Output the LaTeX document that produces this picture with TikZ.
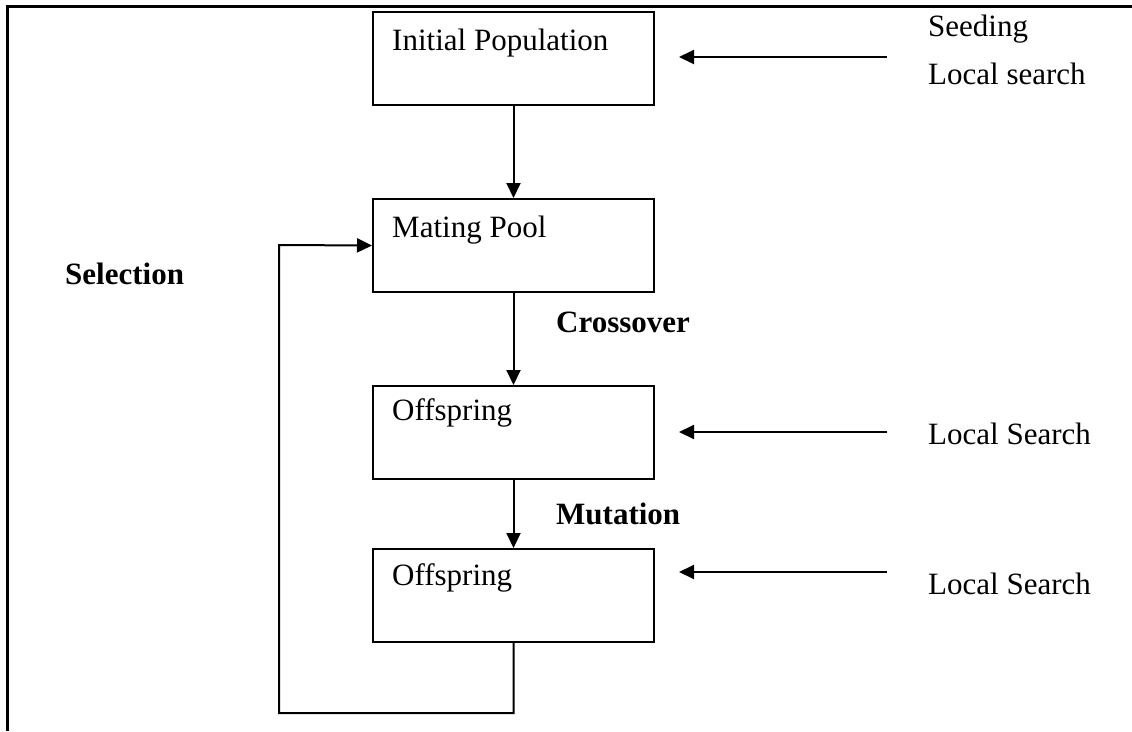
\documentclass[tikz,border=0pt]{standalone}
\usepackage{fontspec}
\setmainfont{Liberation Serif}
\usetikzlibrary{arrows.meta}
\tikzset{
  stagebox/.style={draw, line width=2pt, minimum width=281pt, minimum height=93pt, anchor=north west, inner sep=0pt},
  lbl/.style={anchor=base west, inner sep=0pt, font=\fontsize{31}{37}\selectfont},
  oplbl/.style={lbl, font=\fontsize{31}{37}\selectfont\bfseries},
  arr/.style={line width=2pt, -{Triangle[length=15pt,width=14pt]}},
}
\begin{document}
\begin{tikzpicture}[x=1pt, y=-1pt]
        \useasboundingbox (0,0) rectangle (1132,731);
        % frame
        \draw[line width=3pt] (7,731) -- (7,6) -- (1132,6);
        % stages
        \node[stagebox] (init) at (372,11) {};
        \node[stagebox] (pool) at (372,198) {};
        \node[stagebox] (offa) at (372,385) {};
        \node[stagebox] (offb) at (372,548) {};
        \node[lbl] (initlbl) at (392,50) {Initial Population};
        \node[lbl] (poollbl) at (392,237) {Mating Pool};
        \node[lbl] (offalbl) at (392,420) {Offspring};
        \node[lbl] (offblbl) at (392,585) {Offspring};
        % operators
        \node[oplbl] (sel) at (65,284) {Selection};
        \node[oplbl] (cross) at (556,332) {Crossover};
        \node[oplbl] (mut) at (556,524) {Mutation};
        % local search
        \node[lbl] (seed) at (928,36) {Seeding};
        \node[lbl] (seedls) at (928,84) {Local search};
        \node[lbl] (lsa) at (928,444) {Local Search};
        \node[lbl] (lsb) at (928,594) {Local Search};
        \coordinate (seedtail) at (887,57);
        \coordinate (lsatail) at (887,432);
        \coordinate (lsbtail) at (887,572);
        \foreach \t/\b in {seedtail/init, lsatail/offa, lsbtail/offb}{
                \draw[arr] (\t) -- ([xshift=24pt]\b.east |- \t);
            }
        % flow
        \draw[arr] (init.south) -- (pool.north);
        \draw[arr] (pool.south) -- (offa.north);
        \draw[arr] (offa.south) -- (offb.north);
        \draw[arr] (offb.south) -- ++(0,70) -| (279,245) -- (pool.west);
    \end{tikzpicture}
\end{document}
